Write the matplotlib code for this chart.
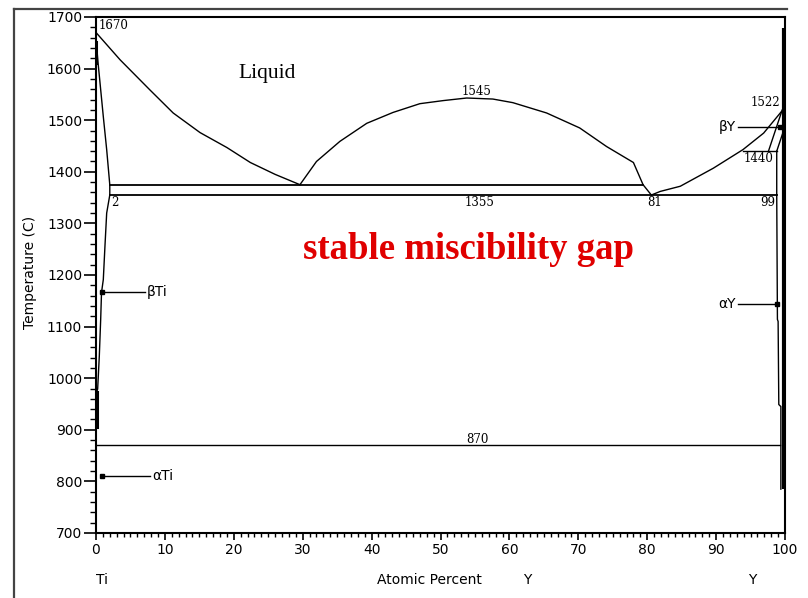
import matplotlib
matplotlib.use("Agg")
import matplotlib.pyplot as plt
from matplotlib.lines import Line2D
from matplotlib.ticker import MultipleLocator

# ---- data ----
liq_left_x = [0, 3.5, 7.8, 11.2, 15.1, 19.0, 22.4, 26.0, 29.6]
liq_left_T = [1670, 1617, 1559, 1514, 1476, 1447, 1418, 1395, 1375]

dome_x = [29.6, 32.0, 35.4, 39.3, 43.1, 47.0, 50.4, 53.8, 57.6, 60.5, 65.4, 70.2, 74.1, 78.0, 79.4, 80.6]
dome_T = [1375, 1420, 1459, 1494, 1515, 1532, 1538, 1543, 1541, 1534, 1514, 1485, 1449, 1418, 1375, 1355]

liq_right_x = [80.6, 81.9, 84.8, 89.6, 93.9, 96.9, 99.5, 100]
liq_right_T = [1355, 1362, 1372, 1407, 1443, 1475, 1517, 1522]

ti_solidus_x = [0, 0.05, 0.33, 1.06, 1.55, 2.0, 2.0]
ti_solidus_T = [1670, 1650, 1607, 1507, 1443, 1375, 1355]
ti_solvus_x = [2.0, 1.55, 1.3, 1.06, 0.8, 0.68, 0.48, 0.24, 0.1, 0.1]
ti_solvus_T = [1355, 1320, 1256, 1191, 1166, 1114, 1043, 979, 973, 905]

y_solvus_x = [98.8, 98.8, 98.9, 99.0, 99.1, 99.4, 99.4]
y_solvus_T = [1440, 1355, 1114, 1110, 949, 945, 785]
y_sol1_x = [97.6, 99.6]
y_sol1_T = [1440, 1520]
y_sol2_x = [98.8, 99.8]
y_sol2_T = [1440, 1480]

monotectic_T, monotectic_x = 1375, [2.0, 79.4]
eutectic_T, eutectic_x = 1355, [2.0, 98.8]
eutectoid_T, eutectoid_x = 870, [0, 99.3]
peritectic_T, peritectic_x = 1440, [93.9, 98.8]

labels_serif = [("1670", 0.4, 1683, "left"), ("1545", 55.3, 1556, "center"),
                ("1355", 55.6, 1340, "center"), ("2", 2.2, 1340, "left"),
                ("81", 81.1, 1340, "center"), ("99", 98.6, 1340, "right"),
                ("1440", 96.1, 1425, "center"), ("1522", 97.2, 1534, "center"),
                ("870", 55.4, 882, "center")]

pointers = [("βTi", 0.9, 7.1, 1167, "left"), ("αTi", 0.8, 7.8, 810, "left"),
            ("βY", 99.3, 93.2, 1486, "right"), ("αY", 98.9, 93.2, 1143, "right")]

xticks = list(range(0, 101, 10))
yticks = list(range(700, 1701, 100))

# ---- figure ----
fig = plt.figure(figsize=(8.08, 5.98), dpi=100)
ax = fig.add_axes([96/808, 1-533/598, (785-96)/808, (533-17)/598])
ax.set_xlim(0, 100)
ax.set_ylim(700, 1700)

lw = 1.0
k = "black"
ax.plot(liq_left_x, liq_left_T, color=k, lw=lw)
ax.plot(dome_x, dome_T, color=k, lw=lw)
ax.plot(liq_right_x, liq_right_T, color=k, lw=lw)
ax.plot(ti_solidus_x, ti_solidus_T, color=k, lw=lw)
ax.plot(ti_solvus_x, ti_solvus_T, color=k, lw=lw)
ax.plot([0.05, 0.05], [1652, 1611], color=k, lw=2.2)
ax.plot([0.1, 0.1], [973, 905], color=k, lw=2.2)
ax.plot(y_solvus_x, y_solvus_T, color=k, lw=lw)
ax.plot(y_sol1_x, y_sol1_T, color=k, lw=lw)
ax.plot(y_sol2_x, y_sol2_T, color=k, lw=lw)
ax.plot([99.85, 99.85], [1678, 785], color=k, lw=3.0, solid_capstyle="butt")

ax.plot(monotectic_x, [monotectic_T]*2, color=k, lw=1.3)
ax.plot(eutectic_x, [eutectic_T]*2, color=k, lw=1.3)
ax.plot(eutectoid_x, [eutectoid_T]*2, color=k, lw=lw)
ax.plot(peritectic_x, [peritectic_T]*2, color=k, lw=lw)

for txt, x, T, ha in labels_serif:
    ax.text(x, T, txt, ha=ha, va="center", fontsize=8.5, family="DejaVu Serif")

for txt, x0, x1, T, ha in pointers:
    ax.plot([x0, x1], [T, T], color=k, lw=lw)
    ax.plot([x0], [T], marker="s", ms=2.5, color=k)
    xt = x1 + 0.3 if ha == "left" else x1 - 0.3
    ax.text(xt, T, txt, ha=ha, va="center", fontsize=10, family="DejaVu Sans")

ax.text(24.8, 1590, "Liquid", ha="center", va="center", fontsize=15.5,
        family="Liberation Serif")
ax.text(54.0, 1249, "stable miscibility gap", ha="center", va="center",
        fontsize=26.5, family="Liberation Serif", fontweight="bold", color="#e00000")

# ---- axes styling ----
for s in ax.spines.values():
    s.set_linewidth(1.5)
ax.set_xticks(xticks)
ax.set_yticks(yticks)
ax.xaxis.set_minor_locator(MultipleLocator(1))
ax.yaxis.set_minor_locator(MultipleLocator(20))
ax.tick_params(axis="x", which="major", direction="out", length=5, width=1.2,
               labelsize=10, pad=2)
ax.tick_params(axis="x", which="minor", direction="out", length=3, width=1.0)
ax.tick_params(axis="y", which="major", direction="out", length=9, width=1.2,
               labelsize=10, pad=1)
ax.tick_params(axis="y", which="minor", direction="out", length=4.5, width=1.0)

fig.text(30/808, 1-272/598, "Temperature (C)", rotation=90, ha="center",
         va="center", fontsize=10)
fig.text(102/808, 1-580/598, "Ti", ha="center", va="center", fontsize=10)
fig.text(377/808, 1-580/598, "Atomic Percent", ha="left", va="center", fontsize=10)
fig.text(527/808, 1-580/598, "Y", ha="center", va="center", fontsize=10)
fig.text(752/808, 1-580/598, "Y", ha="center", va="center", fontsize=10)

# outer frame fragments
fig.add_artist(Line2D([14/808, 14/808], [0, 1-9/598], color="#444444", lw=1.6,
                      transform=fig.transFigure))
fig.add_artist(Line2D([14/808, 787/808], [1-9/598, 1-9/598], color="#444444", lw=1.6,
                      transform=fig.transFigure))

fig.savefig("out.png", dpi=100)
